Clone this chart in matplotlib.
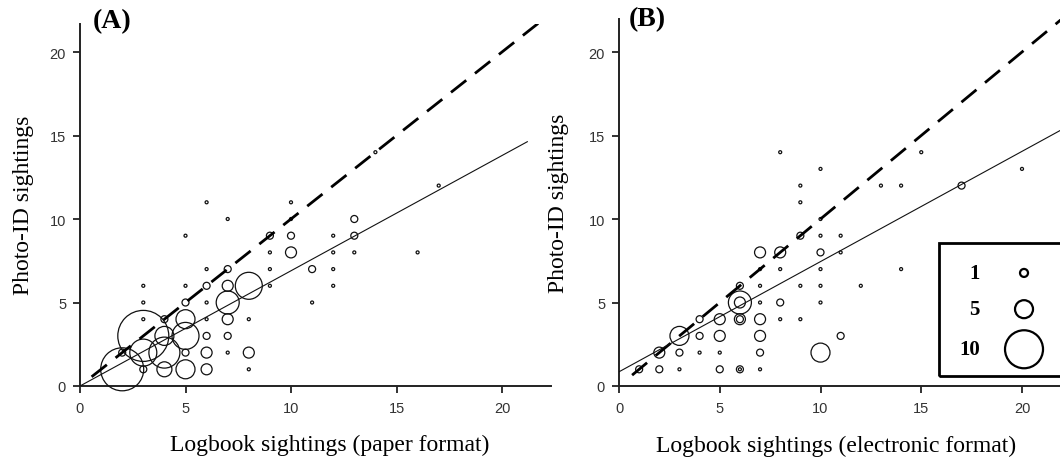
import numpy as np
import matplotlib
matplotlib.use('Agg')
import matplotlib.pyplot as plt
from matplotlib.patches import Rectangle

# panel A: logbook (paper) vs photo-ID, n = number of individuals at that point
a_x = [2, 2, 3, 3, 3, 3, 3, 3,
       4, 4, 4, 4,
       5, 5, 5, 5, 5, 5, 5,
       6, 6, 6, 6, 6, 6, 6, 6,
       7, 7, 7, 7, 7, 7, 7,
       8, 8, 8, 8,
       9, 9, 9, 9,
       10, 10, 10, 10,
       11, 11,
       12, 12, 12, 12,
       13, 13, 13,
       14, 16, 17]
a_y = [1, 2, 1, 2, 3, 4, 5, 6,
       1, 2, 3, 4,
       1, 2, 3, 4, 5, 6, 9,
       1, 2, 3, 4, 5, 6, 7, 11,
       2, 3, 4, 5, 6, 7, 10,
       1, 2, 4, 6,
       6, 7, 8, 9,
       8, 9, 10, 11,
       5, 7,
       6, 7, 8, 9,
       8, 9, 10,
       14, 8, 12]
a_n = [11, 2, 2, 7, 13, 1, 1, 1,
       4, 8, 5, 2,
       5, 2, 7, 5, 2, 1, 1,
       3, 3, 2, 1, 1, 2, 1, 1,
       1, 2, 3, 6, 3, 2, 1,
       1, 3, 1, 7,
       1, 1, 1, 2,
       3, 2, 1, 1,
       1, 2,
       1, 1, 1, 1,
       1, 2, 2,
       1, 1, 1]

# panel B: logbook (electronic) vs photo-ID
b_x = [1, 2, 2, 3, 3, 3, 4, 4, 4,
       5, 5, 5, 5,
       6, 6, 6, 6, 6, 6, 6,
       7, 7, 7, 7, 7, 7, 7, 7,
       8, 8, 8, 8, 8,
       9, 9, 9, 9, 9,
       10, 10, 10, 10, 10, 10, 10, 10,
       11, 11, 11,
       12, 13, 14, 14, 15, 17, 20]
b_y = [1, 1, 2, 1, 2, 3, 2, 3, 4,
       1, 2, 3, 4,
       1, 1, 4, 4, 5, 5, 6,
       1, 2, 3, 4, 5, 6, 7, 8,
       4, 5, 7, 8, 14,
       4, 6, 9, 11, 12,
       2, 5, 6, 7, 8, 9, 10, 13,
       3, 8, 9,
       6, 12, 7, 12, 14, 12, 13]
b_n = [2, 2, 3, 1, 2, 5, 1, 2, 2,
       2, 1, 3, 3,
       2, 1, 3, 2, 6, 3, 2,
       1, 2, 3, 3, 1, 1, 1, 3,
       1, 2, 1, 3, 1,
       1, 1, 2, 1, 1,
       5, 1, 1, 1, 2, 1, 1, 1,
       2, 1, 1,
       1, 1, 1, 1, 1, 2, 1]

# fitted lines: (intercept, slope, x start, x end)
a_fit = (0.0, 0.69, 0.0, 21.2)
b_fit = (0.85, 0.66, 0.0, 22.5)
a_one = (0.55, 22.5)
b_one = (0.65, 22.5)

legend_counts = ['1', '5', '10']
legend_px = [8, 18, 38]

PX = 0.72  # points per pixel at dpi 100


def bubble(n):
    d = 4.0 * np.asarray(n, dtype=float) - 1.0
    return (d * PX) ** 2


def style(ax, xmax, ymax):
    ax.set_xlim(0, xmax)
    ax.set_ylim(0, ymax)
    for s in ['top', 'right']:
        ax.spines[s].set_visible(False)
    for s in ['left', 'bottom']:
        ax.spines[s].set_linewidth(1.4)
        ax.spines[s].set_color('#222222')
    ax.set_xticks([0, 5, 10, 15, 20])
    ax.set_yticks([0, 5, 10, 15, 20])
    ax.tick_params(direction='out', length=5, width=1.3, color='#222222',
                   labelsize=10.5, labelcolor='#333333')
    ax.tick_params(axis='x', pad=6)
    ax.tick_params(axis='y', pad=5)
    for lab in ax.get_xticklabels() + ax.get_yticklabels():
        lab.set_fontfamily('Liberation Sans')


fig = plt.figure(figsize=(10.6, 4.6), dpi=100)

axA = fig.add_axes([80 / 1060, 73 / 460, 22.3 * 21.1 / 1060, 21.7 * 16.7 / 460])
axB = fig.add_axes([619 / 1060, 73 / 460, 22.5 * 20.15 / 1060, 22.0 * 16.7 / 460])
style(axA, 22.3, 21.7)
style(axB, 22.5, 22.0)

for ax, xs, ys, ns, fit, one in [(axA, a_x, a_y, a_n, a_fit, a_one),
                                 (axB, b_x, b_y, b_n, b_fit, b_one)]:
    ax.scatter(xs, ys, s=bubble(ns), facecolors='none', edgecolors='#111111',
               linewidths=0.9, clip_on=False, zorder=3)
    lx = np.array(one)
    ax.plot(lx, lx, color='black', linewidth=2.0, dashes=(7, 4), zorder=4)
    fx = np.array(fit[2:])
    ax.plot(fx, fit[0] + fit[1] * fx, color='#111111', linewidth=0.8, zorder=4)

serif = 'Liberation Serif'
axA.set_xlabel('Logbook sightings (paper format)', fontsize=17, family=serif)
axB.set_xlabel('Logbook sightings (electronic format)', fontsize=17, family=serif)
axA.set_ylabel('Photo-ID sightings', fontsize=17, family=serif)
axB.set_ylabel('Photo-ID sightings', fontsize=17, family=serif)
axA.xaxis.set_label_coords(0.53, -0.133)
axB.xaxis.set_label_coords(0.479, -0.133)
axA.yaxis.set_label_coords(-0.098, 0.5)
axB.yaxis.set_label_coords(-0.11, 0.5)

fig.text(93 / 1060, 1 - 22 / 460, '(A)', fontsize=20, fontweight='bold',
         family=serif, ha='left', va='center')
fig.text(629 / 1060, 1 - 20 / 460, '(B)', fontsize=20, fontweight='bold',
         family=serif, ha='left', va='center')

# size legend box inside panel B (runs off the right edge)
axB.add_patch(Rectangle((15.9, 0.6), 8.0, 7.95, fill=False, linewidth=2.0,
                        edgecolor='black', clip_on=False, zorder=5))
leg_y = [6.77, 4.6, 2.2]
for lab, d, yy in zip(legend_counts, legend_px, leg_y):
    axB.text(17.9, yy, lab, fontsize=15, fontweight='bold', family=serif,
             ha='right', va='center', zorder=6)
    axB.scatter([20.1], [yy], s=(d * PX) ** 2, facecolors='none',
                edgecolors='black', linewidths=1.6, clip_on=False, zorder=6)

fig.savefig('out.png', dpi=100)
